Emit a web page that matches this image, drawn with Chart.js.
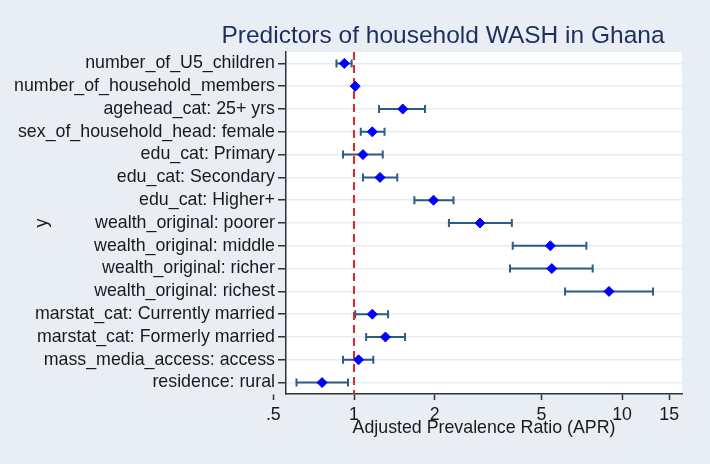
<!DOCTYPE html>
<html lang="en">
<head>
  <meta charset="UTF-8">
  <title>Predictors of household WASH in Ghana</title>
  <script src="https://cdn.jsdelivr.net/npm/chart.js"></script>
  <style>
    body {
      margin: 0;
      background: #e8eef3;
    }
    canvas {
      display: block;
    }
  </style>
</head>
<body>
  <canvas id="forest" width="710" height="464"></canvas>

  <script>
    // Predictors, top to bottom
    const predictors = [
      'number_of_U5_children',
      'number_of_household_members',
      'agehead_cat: 25+ yrs',
      'sex_of_household_head: female',
      'edu_cat: Primary',
      'edu_cat: Secondary',
      'edu_cat: Higher+',
      'wealth_original: poorer',
      'wealth_original: middle',
      'wealth_original: richer',
      'wealth_original: richest',
      'marstat_cat: Currently married',
      'marstat_cat: Formerly married',
      'mass_media_access: access',
      'residence: rural'
    ];
    // APR point estimates and 95% CI bounds
    const apr     = [0.92, 1.01, 1.52, 1.17, 1.08, 1.25, 1.98, 2.95, 5.40, 5.47, 8.94, 1.17, 1.31, 1.04, 0.76];
    const ciLower = [0.86, 1.00, 1.24, 1.06, 0.91, 1.08, 1.68, 2.26, 3.91, 3.82, 6.13, 1.01, 1.11, 0.91, 0.61];
    const ciUpper = [0.98, 1.02, 1.84, 1.30, 1.28, 1.45, 2.35, 3.88, 7.36, 7.77, 13.05, 1.34, 1.55, 1.18, 0.95];

    const xTicks = [0.5, 1, 2, 5, 10, 15];
    const xTickLabels = ['.5', '1', '2', '5', '10', '15'];
    const refValue = 1;

    const titleText = 'Predictors of household WASH in Ghana';
    const xTitle = 'Adjusted Prevalence Ratio (APR)';
    const yTitle = 'y';

    const FONT = "'Liberation Sans', Arial, sans-serif";
    const TEXT = '#1a1a1a';

    // white plot region, reference line, CI whiskers, titles
    const forestPlugin = {
      id: 'forest',
      beforeDraw(chart) {
        const { ctx, chartArea: a } = chart;
        ctx.save();
        ctx.fillStyle = '#e8eef3';
        ctx.fillRect(0, 0, chart.width, chart.height);
        ctx.fillStyle = '#ffffff';
        ctx.fillRect(a.left, a.top, a.right - a.left, a.bottom - a.top);
        ctx.restore();
      },
      beforeDatasetsDraw(chart) {
        const { ctx, chartArea: a, scales: { x, y } } = chart;
        ctx.save();
        // error bars
        ctx.strokeStyle = '#2b5b86';
        ctx.lineWidth = 2;
        predictors.forEach((p, i) => {
          const py = y.getPixelForValue(i);
          const x1 = x.getPixelForValue(ciLower[i]);
          const x2 = x.getPixelForValue(ciUpper[i]);
          ctx.beginPath();
          ctx.moveTo(x1, py); ctx.lineTo(x2, py);
          ctx.moveTo(x1, py - 4); ctx.lineTo(x1, py + 4);
          ctx.moveTo(x2, py - 4); ctx.lineTo(x2, py + 4);
          ctx.stroke();
        });
        // reference line at APR = 1
        const rx = x.getPixelForValue(refValue);
        ctx.strokeStyle = '#e3262b';
        ctx.lineWidth = 2;
        ctx.setLineDash([8, 5]);
        ctx.beginPath();
        ctx.moveTo(rx, a.top);
        ctx.lineTo(rx, a.bottom);
        ctx.stroke();
        ctx.restore();
      },
      afterDraw(chart) {
        const { ctx, chartArea: a } = chart;
        ctx.save();
        ctx.fillStyle = '#1e2f5e';
        ctx.font = '24.5px ' + FONT;
        ctx.textAlign = 'center';
        ctx.textBaseline = 'alphabetic';
        ctx.fillText(titleText, 443, 43);
        // y axis title, Stata-style placement
        ctx.fillStyle = TEXT;
        ctx.font = '17.8px ' + FONT;
        ctx.translate(42, (a.top + a.bottom) / 2);
        ctx.rotate(-Math.PI / 2);
        ctx.textBaseline = 'middle';
        ctx.fillText(yTitle, 0, 0);
        ctx.restore();
      }
    };

    new Chart(document.getElementById('forest'), {
      type: 'scatter',
      data: {
        labels: predictors,
        datasets: [{
          data: predictors.map((p, i) => ({ x: apr[i], y: p })),
          pointStyle: 'rectRot',
          pointRadius: 5,
          pointHoverRadius: 5,
          backgroundColor: '#0000ff',
          borderColor: '#0000ff',
          borderWidth: 1
        }]
      },
      options: {
        responsive: false,
        animation: false,
        layout: { padding: { top: 52, right: 28, left: 0, bottom: 0 } },
        plugins: {
          legend: { display: false },
          tooltip: { enabled: false }
        },
        scales: {
          x: {
            type: 'logarithmic',
            min: 0.5575,
            max: 16.74,
            afterBuildTicks: (scale) => { scale.ticks = xTicks.map(v => ({ value: v })); },
            afterFit: (scale) => { scale.height = 70; },
            grid: { drawOnChartArea: false, tickLength: 6, tickColor: '#333', tickWidth: 1.5 },
            border: { color: '#333', width: 1.5 },
            ticks: {
              autoSkip: false,
              maxRotation: 0,
              padding: 4,
              color: TEXT,
              font: { family: FONT, size: 17.8 },
              callback: (v, i) => xTickLabels[i]
            },
            title: {
              display: true,
              text: xTitle,
              color: TEXT,
              font: { family: FONT, size: 17.8 },
              padding: { top: 0, bottom: 25 }
            }
          },
          y: {
            type: 'category',
            offset: true,
            afterFit: (scale) => { scale.width = 286; },
            grid: { offset: false, color: '#e6edf2', lineWidth: 1.5, tickLength: 8, tickColor: '#333', tickWidth: 1.5 },
            border: { color: '#333', width: 1.5 },
            ticks: {
              autoSkip: false,
              padding: 3,
              color: TEXT,
              font: { family: FONT, size: 17.8 }
            }
          }
        }
      },
      plugins: [forestPlugin]
    });
  </script>
</body>
</html>
